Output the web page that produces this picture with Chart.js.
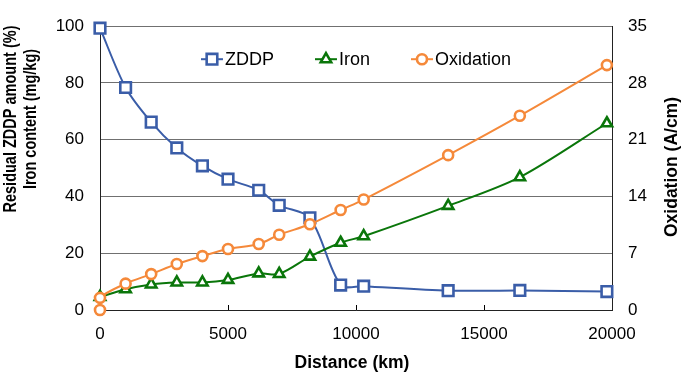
<!DOCTYPE html>
<html>
<head>
<meta charset="utf-8">
<script src="https://cdn.jsdelivr.net/npm/chart.js@4/dist/chart.umd.min.js"></script>
<style>
  html, body { margin: 0; padding: 0; background: #fff; }
  #wrap { width: 685px; height: 379px; position: relative; }
</style>
</head>
<body>
<div id="wrap"><canvas id="c"></canvas></div>
<script>
// ---- Data ----
const distanceKm   = [0, 1000, 2000, 3000, 4000, 5000, 6200, 7000, 8200, 9400, 10300, 13600, 16400, 19800];
const zddpPercent  = [99.3, 78.4, 66.2, 57.1, 50.8, 46.1, 42.2, 36.9, 32.5, 8.8, 8.4, 6.8, 6.9, 6.5];
const ironMgKg     = [4.6, 7.3, 9.0, 9.7, 9.7, 10.6, 12.9, 12.7, 18.8, 23.7, 26.0, 36.7, 46.8, 65.8];
const oxDistanceKm = [0, 0, 1000, 2000, 3000, 4000, 5000, 6200, 7000, 8200, 9400, 10300, 13600, 16400, 19800];
const oxidationAcm = [0, 1.5, 3.25, 4.43, 5.68, 6.65, 7.52, 8.14, 9.28, 10.57, 12.33, 13.62, 19.1, 23.96, 30.2];

const seriesNames = ['ZDDP', 'Iron', 'Oxidation'];
const leftTicks  = [0, 20, 40, 60, 80, 100];
const rightTicks = [0, 7, 14, 21, 28, 35];
const xTicks     = [0, 5000, 10000, 15000, 20000];

const leftTitle  = ['Residual ZDDP amount (%)', 'Iron content (mg/kg)'];
const rightTitle = 'Oxidation (A/cm)';
const xTitle     = 'Distance (km)';

const BLUE = '#3A5DA8', GREEN = '#0A760A', ORANGE = '#F5893A';
const FONT = '"Liberation Sans", Arial, sans-serif';

function pts(xs, ys) { return xs.map((x, i) => ({ x: x, y: ys[i] })); }

const datasets = [
  { label: seriesNames[0], data: pts(distanceKm, zddpPercent), yAxisID: 'y', order: 3, clip: false,
    borderColor: BLUE, borderWidth: 2, pointStyle: 'rect', pointRadius: 7.5,
    pointBorderWidth: 2.6, pointBackgroundColor: '#fff', pointBorderColor: BLUE },
  { label: seriesNames[1], data: pts(distanceKm, ironMgKg), yAxisID: 'y', order: 2, clip: false,
    borderColor: GREEN, borderWidth: 2, pointStyle: 'triangle', pointRadius: 6,
    pointBorderWidth: 2.6, pointBackgroundColor: '#fff', pointBorderColor: GREEN },
  { label: seriesNames[2], data: pts(oxDistanceKm, oxidationAcm), yAxisID: 'y1', order: 1, clip: false,
    borderColor: ORANGE, borderWidth: 2, pointStyle: 'circle', pointRadius: 5,
    pointBorderWidth: 2.6, pointBackgroundColor: '#fff', pointBorderColor: ORANGE }
];

function drawMarkerPath(ctx, style, r, x, y) {
  if (style === 'rect') {
    const s = Math.SQRT1_2 * r;
    ctx.rect(x - s, y - s, 2 * s, 2 * s);
  } else if (style === 'triangle') {
    const rad = -Math.PI / 2;
    ctx.moveTo(x + Math.cos(rad) * r, y + Math.sin(rad) * r);
    ctx.lineTo(x + Math.cos(rad + 2 * Math.PI / 3) * r, y + Math.sin(rad + 2 * Math.PI / 3) * r);
    ctx.lineTo(x + Math.cos(rad + 4 * Math.PI / 3) * r, y + Math.sin(rad + 4 * Math.PI / 3) * r);
    ctx.closePath();
  } else {
    ctx.arc(x, y, r, 0, Math.PI * 2);
  }
}

const extrasPlugin = {
  id: 'extras',
  afterDatasetsDraw(chart) {
    const ctx = chart.ctx, ca = chart.chartArea, xs = chart.scales.x;
    ctx.save();
    // inner tick marks on x axis
    ctx.strokeStyle = '#000'; ctx.lineWidth = 1;
    xTicks.slice(1, -1).forEach(v => {
      const px = Math.round(xs.getPixelForValue(v)) + 0.5;
      ctx.beginPath(); ctx.moveTo(px, ca.bottom); ctx.lineTo(px, ca.bottom - 5); ctx.stroke();
    });
    // legend inside plot
    ctx.font = '18px ' + FONT;
    ctx.textBaseline = 'middle';
    const lineLen = 22, gapText = 2, gapItem = 41;
    const widths = chart.data.datasets.map(ds => lineLen + gapText + ctx.measureText(ds.label).width);
    const total = widths.reduce((a, b) => a + b, 0) + gapItem * (widths.length - 1);
    let x = (ca.left + ca.right) / 2 - total / 2;
    const y = ca.top + 33;
    chart.data.datasets.forEach((ds, i) => {
      ctx.strokeStyle = ds.borderColor; ctx.lineWidth = 2;
      ctx.beginPath(); ctx.moveTo(x, y); ctx.lineTo(x + lineLen, y); ctx.stroke();
      ctx.fillStyle = '#fff'; ctx.strokeStyle = ds.borderColor; ctx.lineWidth = ds.pointBorderWidth;
      ctx.beginPath();
      drawMarkerPath(ctx, ds.pointStyle, ds.pointRadius, x + lineLen / 2, y);
      ctx.fill(); ctx.stroke();
      ctx.fillStyle = '#000'; ctx.textAlign = 'left';
      ctx.fillText(ds.label, x + lineLen + gapText, y + 1);
      x += widths[i] + gapItem;
    });
    // axis titles
    ctx.fillStyle = '#000';
    ctx.textAlign = 'center'; ctx.textBaseline = 'middle';
    ctx.font = 'bold 17.5px ' + FONT;
    const w0 = ctx.measureText(leftTitle[0]).width;
    const sx = 187 / w0;
    leftTitle.forEach((t, i) => {
      ctx.save(); ctx.translate(11.5 + i * 19.5, 119); ctx.rotate(-Math.PI / 2); ctx.scale(sx, 1);
      ctx.fillText(t, 0, 0); ctx.restore();
    });
    ctx.save(); ctx.translate(672, 167); ctx.rotate(-Math.PI / 2);
    ctx.fillText(rightTitle, 0, 0); ctx.restore();
    ctx.fillText(xTitle, 352, 363);
    ctx.restore();
  }
};

new Chart(document.getElementById('c'), {
  type: 'line',
  data: { datasets: datasets },
  plugins: [extrasPlugin],
  options: {
    responsive: true, maintainAspectRatio: false, animation: false,
    layout: { padding: { top: 12, left: 0, right: 0, bottom: 0 } },
    elements: { line: { tension: 0.3, fill: false } },
    plugins: { legend: { display: false }, tooltip: { enabled: false } },
    scales: {
      x: {
        type: 'linear', min: 0, max: 20000,
        afterBuildTicks: s => { s.ticks = xTicks.map(v => ({ value: v })); },
        ticks: { color: '#000', font: { size: 17, family: FONT }, padding: 14, maxRotation: 0,
                 callback: v => String(v) },
        grid: { display: false, drawTicks: false },
        border: { display: true, color: '#222', width: 1 },
        afterFit: s => { s.height = 69; }
      },
      y: {
        position: 'left', min: 0, max: 100,
        afterBuildTicks: s => { s.ticks = leftTicks.map(v => ({ value: v })); },
        ticks: { color: '#000', font: { size: 17, family: FONT }, padding: 16, callback: v => String(v) },
        grid: { color: '#707070', lineWidth: 1, drawTicks: false },
        border: { display: true, color: '#222', width: 1 },
        afterFit: s => { s.width = 100; }
      },
      y1: {
        position: 'right', min: 0, max: 35,
        afterBuildTicks: s => { s.ticks = rightTicks.map(v => ({ value: v })); },
        ticks: { color: '#000', font: { size: 17, family: FONT }, padding: 16, callback: v => String(v) },
        grid: { drawOnChartArea: false, drawTicks: false },
        border: { display: true, color: '#222', width: 1 },
        afterFit: s => { s.width = 73; }
      }
    }
  }
});
</script>
</body>
</html>
